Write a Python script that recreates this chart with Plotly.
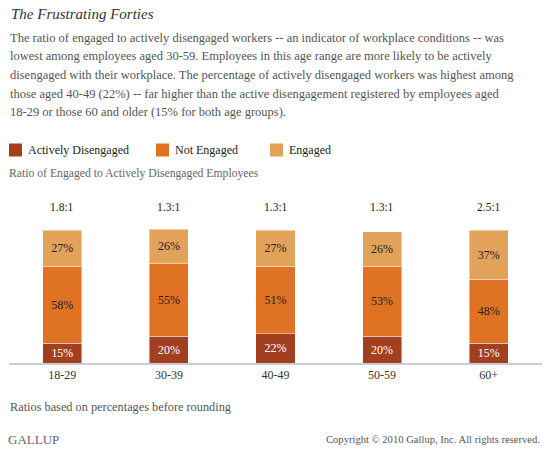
import plotly.graph_objects as go

categories = ["18-29", "30-39", "40-49", "50-59", "60+"]
actively_disengaged = [15, 20, 22, 20, 15]
not_engaged = [58, 55, 51, 53, 48]
engaged = [27, 26, 27, 26, 37]
ratios = ["1.8:1", "1.3:1", "1.3:1", "1.3:1", "2.5:1"]

series_names = ["Actively Disengaged", "Not Engaged", "Engaged"]
colors = ["#A23F1F", "#E07224", "#E2A25A"]
text_colors = ["#FFFFFF", "#222222", "#222222"]

title = "The Frustrating Forties"
body_lines = [
    "The ratio of engaged to actively disengaged workers -- an indicator of workplace conditions -- was",
    "lowest among employees aged 30-59. Employees in this age range are more likely to be actively",
    "disengaged with their workplace. The percentage of actively disengaged workers was highest among",
    "those aged 40-49 (22%) -- far higher than the active disengagement registered by employees aged",
    "18-29 or those 60 and older (15% for both age groups).",
]

FONT = "Liberation Serif"
W, H = 549, 450
L, R, T, B = 9, 7, 190, 87

fig = go.Figure()
for name, vals, col, tcol in zip(series_names, [actively_disengaged, not_engaged, engaged], colors, text_colors):
    fig.add_trace(go.Bar(
        x=categories, y=vals, name=name,
        marker=dict(color=col, line=dict(color="rgba(255,255,255,0.45)", width=1)),
        text=[f"{v}%" for v in vals], textposition="inside", insidetextanchor="middle",
        textfont=dict(family=FONT, size=12, color=tcol),
        width=0.366, showlegend=False, hoverinfo="skip",
    ))

for cat, r in zip(categories, ratios):
    fig.add_annotation(x=cat, y=117.3, xref="x", yref="y", text=r, showarrow=False,
                       font=dict(family=FONT, size=11.5, color="#1A1A1A"))

fig.update_layout(
    width=W, height=H,
    margin=dict(l=L, r=R, t=T, b=B),
    paper_bgcolor="white", plot_bgcolor="white",
    barmode="stack",
    font=dict(family=FONT, size=12, color="#333333"),
    xaxis=dict(showline=True, linecolor="#CCCCCC", linewidth=2, ticks="", showgrid=False,
               tickfont=dict(family=FONT, size=12, color="#333333"), range=[-0.5, 4.5],
               fixedrange=True),
    yaxis=dict(visible=False, range=[0, 130.4], fixedrange=True),
)

pw, ph = W - L - R, H - T - B


def px(x):
    return (x - L) / pw


def py(y):
    return (H - B - y) / ph


def text_at(x, y, txt, size, color, anchor="left"):
    fig.add_annotation(x=px(x), y=py(y), xref="paper", yref="paper", text=txt, showarrow=False,
                       xanchor=anchor, yanchor="middle", align="left",
                       font=dict(family=FONT, size=size, color=color))


text_at(9, 14, f"<i>{title}</i>", 15, "#333333")
for i, line in enumerate(body_lines):
    text_at(8, 37.5 + 18.7 * i, line, 12.5, "#555555")

# Legend
leg_x = [9, 156, 270]
for lx, name, col in zip(leg_x, series_names, colors):
    fig.add_shape(type="rect", xref="paper", yref="paper", x0=px(lx), x1=px(lx + 13),
                  y0=py(156.5), y1=py(143.5), fillcolor=col, line=dict(width=0))
    text_at(lx + 17, 150, name, 12, "#222222")

text_at(7, 173.5, "Ratio of Engaged to Actively Disengaged Employees", 11.7, "#666666")
text_at(8, 406.5, "Ratios based on percentages before rounding", 12.3, "#555555")
text_at(6, 439, "GALLUP", 13, "#666666")
text_at(542, 439, "Copyright © 2010 Gallup, Inc. All rights reserved.", 10.6, "#555555", anchor="right")

fig.write_html("out.html", config={"displayModeBar": False},
               post_script="document.body.style.margin='0';document.body.style.padding='0';")
